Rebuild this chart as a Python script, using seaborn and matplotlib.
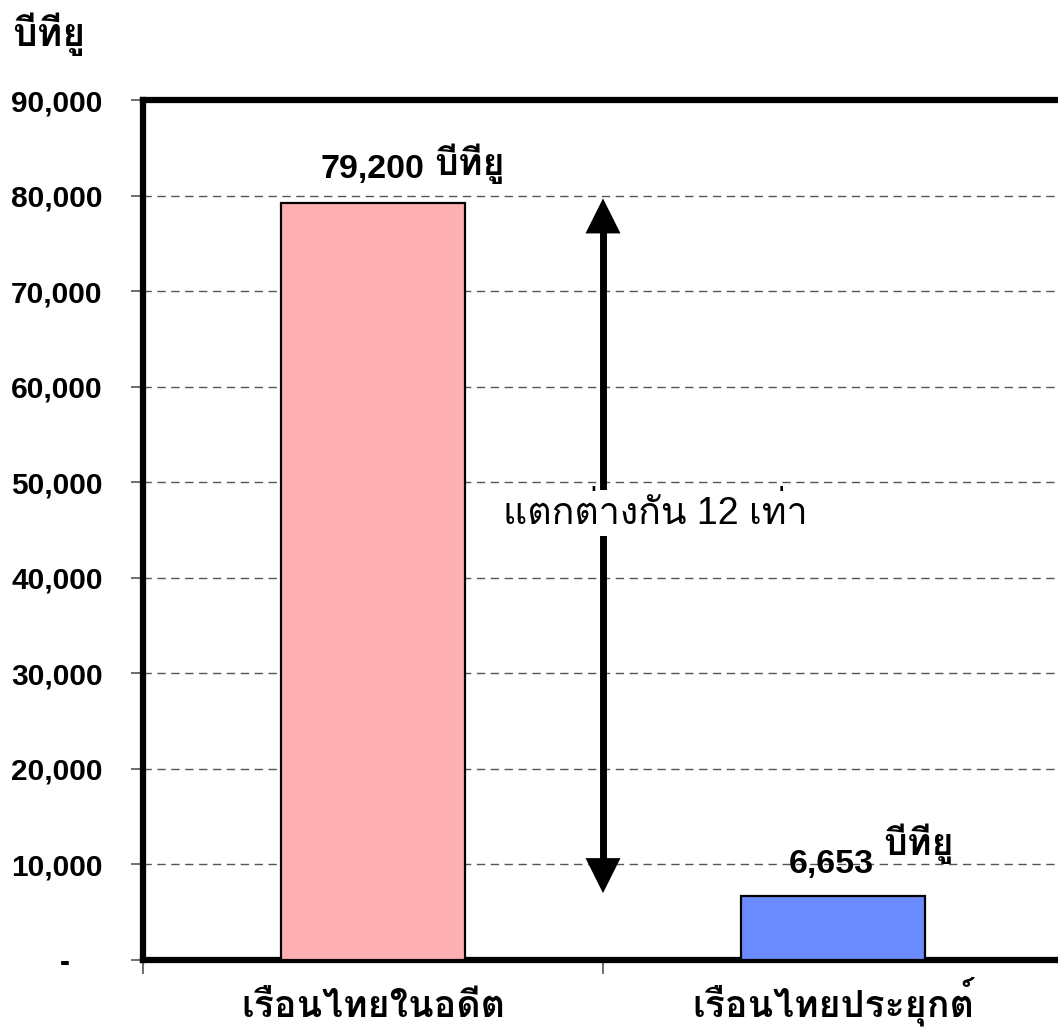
import matplotlib
matplotlib.use("Agg")
import matplotlib.pyplot as plt
from matplotlib import font_manager
from matplotlib.ticker import FixedLocator, FuncFormatter
import seaborn as sns
import pandas as pd

# ---- data ----
categories = ["เรือนไทยในอดีต", "เรือนไทยประยุกต์"]
btu_values = [79200, 6653]
bar_colors = ["#FFB0B3", "#6A8CFF"]
y_ticks = [0, 10000, 20000, 30000, 40000, 50000, 60000, 70000, 80000, 90000]
unit_label = "บีทียู"
ratio_label = "แตกต่างกัน 12 เท่า"
arrow_top, arrow_bottom = 79700, 7000


def find_thai_font():
    """Return the name of an installed family that has Thai glyphs."""
    from matplotlib.ft2font import FT2Font
    preferred = []
    others = []
    for fe in font_manager.fontManager.ttflist:
        try:
            f = FT2Font(fe.fname)
            cmap = f.get_charmap()
        except Exception:
            continue
        if 0x0E1A in cmap and 0x0E35 in cmap:
            if "thai" in fe.name.lower() or "loma" in fe.name.lower():
                preferred.append(fe.name)
            else:
                others.append(fe.name)
    for lst in (preferred, others):
        if lst:
            return lst[0]
    return "DejaVu Sans"


sns.set_theme(style="white")
thai = find_thai_font()
plt.rcParams["font.family"] = ["Liberation Sans", thai, "DejaVu Sans"]
plt.rcParams["text.color"] = "black"
plt.rcParams["xtick.color"] = "black"
plt.rcParams["ytick.color"] = "black"

df = pd.DataFrame({"category": categories, "btu": btu_values})

fig = plt.figure(figsize=(10.58, 10.30), dpi=100)
ax = fig.add_axes([143 / 1058, 70 / 1030, 920 / 1058, 860 / 1030])

sns.barplot(data=df, x="category", y="btu", hue="category", palette=bar_colors,
            saturation=1, width=0.40, edgecolor="black", linewidth=1.6,
            legend=False, ax=ax, zorder=3)

ax.set_xlim(-0.5, 1.5)
ax.set_ylim(0, 90000)

# dashed horizontal grid
ax.yaxis.set_major_locator(FixedLocator(y_ticks))
ax.grid(axis="y", color="#555555", linestyle=(0, (6, 4)), linewidth=1.0, zorder=0)
ax.grid(axis="x", visible=False)

ax.yaxis.set_major_formatter(FuncFormatter(
    lambda v, p: "-    " if v == 0 else f"{int(v):,}"))
ax.tick_params(axis="y", left=True, length=9, width=1.2, color="#555555",
               labelcolor="black", pad=20, labelsize=21.5)
for t in ax.get_yticklabels():
    t.set_fontweight("bold")

# category labels at the bar centres, tick marks at category boundaries
ax.set_xticks([0, 1])
ax.set_xticklabels(categories, fontweight="bold", fontsize=27)
ax.tick_params(axis="x", which="major", length=0, pad=41, labelcolor="black")
for t in ax.get_xticklabels():
    t.set_verticalalignment("baseline")
ax.set_xticks([-0.5, 0.5, 1.5], minor=True)
ax.tick_params(axis="x", which="minor", bottom=True, length=10, width=1.2,
               color="#555555")
ax.set_xlabel("")
ax.set_ylabel("")

for side in ("left", "top", "bottom", "right"):
    ax.spines[side].set_visible(True)
    ax.spines[side].set_color("black")
    ax.spines[side].set_linewidth(4.5)

# unit label above the value axis
fig.text(12 / 1058, 1 - 46 / 1030, unit_label, fontsize=28, fontweight="bold",
         ha="left", va="baseline")

# value annotations
ax.annotate(f"{btu_values[0]:,}", xy=(0, btu_values[0]), xytext=(-38, 18),
            textcoords="offset points", ha="left", va="baseline",
            fontsize=24.5, fontweight="bold")
ax.annotate(unit_label, xy=(0, btu_values[0]), xytext=(44, 20),
            textcoords="offset points", ha="left", va="baseline",
            fontsize=27, fontweight="bold")
ax.annotate(f"{btu_values[1]:,}", xy=(1, btu_values[1]), xytext=(-32, 17),
            textcoords="offset points", ha="left", va="baseline",
            fontsize=24.5, fontweight="bold")
ax.annotate(unit_label, xy=(1, btu_values[1]), xytext=(36, 30),
            textcoords="offset points", ha="left", va="baseline",
            fontsize=27, fontweight="bold")

# double-headed arrow between the two levels: shaft plus two filled heads
arrow_x = 0.5
ax.vlines(arrow_x, arrow_bottom + 2000, arrow_top - 2000, color="black",
          linewidth=5, zorder=4)
for tip, tail in ((arrow_top, arrow_top - 6000), (arrow_bottom, arrow_bottom + 6000)):
    ax.annotate("", xy=(arrow_x, tip), xytext=(arrow_x, tail),
                arrowprops=dict(arrowstyle="-|>,head_length=2.1,head_width=1.05",
                                mutation_scale=12, facecolor="black",
                                edgecolor="none", lw=0, shrinkA=0, shrinkB=0),
                zorder=4)
ax.text(arrow_x + 52 / 460, 46800, ratio_label, ha="center", va="center",
        fontsize=27, zorder=5,
        bbox=dict(facecolor="white", edgecolor="none", pad=3))

fig.savefig("out.png", dpi=100)
